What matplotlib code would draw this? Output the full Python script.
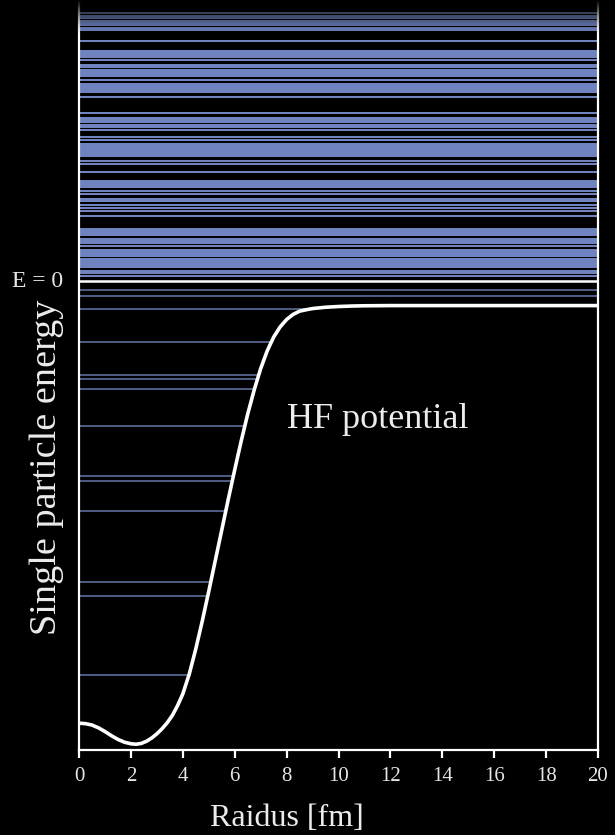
import numpy as np
import matplotlib
matplotlib.use("Agg")
import matplotlib.pyplot as plt

# Hartree-Fock mean-field potential V(r) [MeV] on radius r [fm]
radius = [0.0, 0.25, 0.5, 0.75, 1.0, 1.25, 1.5, 1.75, 2.0, 2.2, 2.4, 2.6,
          2.8, 3.0, 3.2, 3.4, 3.6, 3.8, 4.0, 4.25, 4.5, 4.75, 5.0, 5.25, 5.5,
          5.75, 6.0, 6.25, 6.5, 6.75, 7.0, 7.25, 7.5, 7.75, 8.0, 8.25, 8.5,
          8.75, 9.0, 9.5, 10.0, 10.5, 11.0, 12.0, 20.0]
potential = [-47.60, -47.65, -47.80, -48.10, -48.50, -48.95, -49.35, -49.65,
             -49.82, -49.87, -49.78, -49.55, -49.20, -48.75, -48.20, -47.55,
             -46.75, -45.70, -44.45, -42.30, -39.60, -36.60, -33.40, -30.10,
             -26.80, -23.50, -20.30, -17.20, -14.30, -11.70, -9.40, -7.50,
             -6.00, -4.90, -4.10, -3.55, -3.20, -3.05, -2.92, -2.78, -2.70,
             -2.65, -2.62, -2.60, -2.60]

# Bound single-particle levels [MeV]
bound_levels = [-0.9, -1.6, -3.0, -6.5, -10.1, -10.5, -11.6, -15.6, -21.0,
                -21.5, -24.7, -32.4, -33.9, -42.4]

# Discretised continuum states above threshold [MeV]
continuum_levels = [28.93, 28.61, 28.39, 28.07, 27.86, 27.64, 27.32, 27.10,
                    25.91, 24.84, 24.62, 24.41, 24.19, 23.87, 23.33, 23.11,
                    22.79, 22.58, 22.36, 22.14, 21.71, 21.28, 21.07, 20.85,
                    20.64, 20.42, 19.88, 18.16, 17.62, 17.40, 17.19, 16.86,
                    16.65, 16.33, 15.57, 15.25, 14.82, 14.60, 14.39, 14.17,
                    13.95, 13.74, 13.52, 12.98, 12.66, 11.80, 10.83, 10.61,
                    10.40, 10.18, 9.75, 9.43, 8.89, 8.67, 8.24, 7.92, 7.60,
                    7.06, 5.66, 5.44, 5.23, 5.01, 4.58, 4.36, 4.15, 3.83,
                    3.39, 3.18, 2.96, 2.75, 2.42, 2.21, 1.99, 1.78, 1.56,
                    1.13, 0.92, 0.59]

x_ticks = [0, 2, 4, 6, 8, 10, 12, 14, 16, 18, 20]

plt.rcParams["font.family"] = ["Liberation Serif", "DejaVu Serif"]

W, H = 615, 835
fig = plt.figure(figsize=(W / 100, H / 100), dpi=100, facecolor="black")
ax = fig.add_axes([79 / W, (H - 750) / H, (598 - 79) / W, 750 / H])
ax.set_facecolor("black")
ax.set_xlim(0, 20)
ax.set_ylim(-50.49, 30.33)

r = np.asarray(radius)
v = np.asarray(potential)

# outer turning point of each bound level on the rising side of the well
i_min = int(np.argmin(v))
r_out, v_out = r[i_min:], v[i_min:]
keep = np.concatenate([[True], np.diff(v_out) > 0])
r_out, v_out = r_out[keep], v_out[keep]
turning = [float(np.interp(e, v_out, r_out)) if e < v_out[-1] else 20.0
           for e in bound_levels]

ax.hlines(continuum_levels, 0, 20, color="#88a2ec", lw=1.3, alpha=0.9,
          zorder=2)
ax.hlines(bound_levels, 0, turning, color="#56658f", lw=1.3, zorder=2)
ax.axhline(0.0, color="white", lw=1.8, zorder=3)
ax.plot(r, v, color="white", lw=2.6, solid_capstyle="round",
        solid_joinstyle="round", zorder=4)

for side in ("left", "right", "bottom"):
    ax.spines[side].set_color("white")
    ax.spines[side].set_linewidth(1.6)
ax.spines["top"].set_visible(False)

ax.set_xticks(x_ticks)
ax.set_xticklabels([str(t) for t in x_ticks])
ax.tick_params(axis="x", colors="white", labelcolor="#e6e6e6", direction="out",
               length=6, width=1.6, labelsize=15, pad=6)
ax.set_yticks([])

ax.text(-0.6, 0.0, "E = 0", color="#e6e6e6", fontsize=17, ha="right",
        va="center")
ax.text(11.5, -14.9, "HF potential", color="#ececec", fontsize=26,
        ha="center", va="center")

fig.text(287 / W, 1 - 818 / H, "Raidus [fm]", color="#ececec", fontsize=23,
         ha="center", va="center")
fig.text(47 / W, 1 - 467 / H, "Single particle energy", color="#ececec",
         fontsize=27.5, rotation=90, ha="center", va="center")

# dark fade across the top edge
fade_px = 36
fade_ax = fig.add_axes([0, 1 - fade_px / H, 1, fade_px / H])
t = np.linspace(0, 1, 64)
grad = np.zeros((64, 1, 4))
grad[:, 0, 3] = (1 - t) ** 1.4
fade_ax.imshow(grad, aspect="auto", extent=(0, 1, 0, 1), origin="upper",
               interpolation="bilinear")
fade_ax.set_axis_off()
fade_ax.patch.set_visible(False)

fig.savefig("out.png", dpi=100, facecolor="black")
